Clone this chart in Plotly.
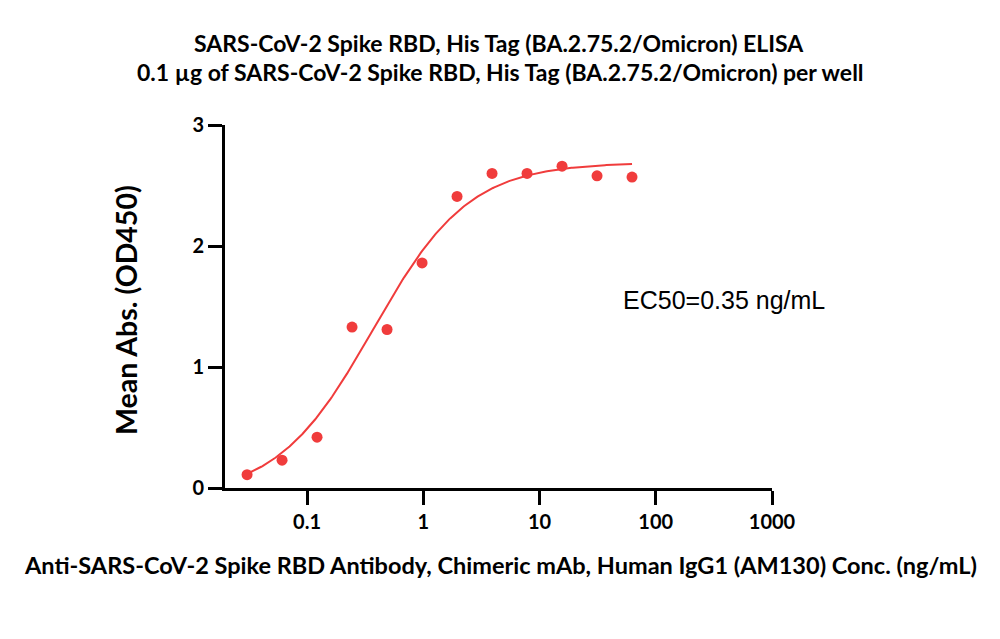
import numpy as np
import plotly.graph_objects as go

# Data
conc = [0.0305, 0.061, 0.122, 0.244, 0.488, 0.977, 1.953, 3.906, 7.8125, 15.625, 31.25, 62.5]
od450 = [0.11, 0.23, 0.42, 1.33, 1.31, 1.86, 2.41, 2.60, 2.60, 2.66, 2.58, 2.57]

# 4PL fit parameters (estimated from the drawn curve)
fit_bottom = -0.07
fit_top = 2.69
fit_ec50 = 0.37
fit_hill = 1.05

x_ticks = [0.1, 1, 10, 100, 1000]
x_tick_labels = ["0.1", "1", "10", "100", "1000"]
y_ticks = [0, 1, 2, 3]

title1 = "SARS-CoV-2 Spike RBD, His Tag (BA.2.75.2/Omicron) ELISA"
title2 = "0.1 µg of SARS-CoV-2 Spike RBD, His Tag (BA.2.75.2/Omicron) per well"
x_title = "Anti-SARS-CoV-2 Spike RBD Antibody, Chimeric mAb, Human IgG1 (AM130) Conc. (ng/mL)"
y_title = "Mean Abs. (OD450)"
ec50_text = "EC50=0.35 ng/mL"

red = "#F03C3C"

xc = np.logspace(np.log10(conc[0]), np.log10(conc[-1]), 300)
yc = fit_bottom + (fit_top - fit_bottom) / (1 + (fit_ec50 / xc) ** fit_hill)

fig = go.Figure()
fig.add_trace(go.Scatter(x=xc, y=yc, mode="lines", line=dict(color=red, width=2),
                         showlegend=False, hoverinfo="skip"))
fig.add_trace(go.Scatter(x=conc, y=od450, mode="markers",
                         marker=dict(color=red, size=11, line=dict(width=0)),
                         showlegend=False))

L, R, T, B = 225, 228, 125, 151
W, H = 1000, 639
pw, ph = W - L - R, H - T - B

def px(xpix):
    return (xpix - L) / pw

def py(ypix):
    return (H - B - ypix) / ph

title_font = dict(family="Lato", size=23, color="black")
ann = [
    dict(text="<b>" + title1 + "</b>", x=px(499), y=py(43), showarrow=False,
         xref="paper", yref="paper", xanchor="center", yanchor="middle", font=title_font),
    dict(text="<b>" + title2 + "</b>", x=px(500), y=py(72), showarrow=False,
         xref="paper", yref="paper", xanchor="center", yanchor="middle", font=title_font),
    dict(text="<b>" + x_title + "</b>", x=px(500), y=py(565), showarrow=False,
         xref="paper", yref="paper", xanchor="center", yanchor="middle",
         font=dict(family="Lato", size=23.5, color="black")),
    dict(text="<b>" + y_title + "</b>", x=px(126), y=py(310), showarrow=False,
         xref="paper", yref="paper", xanchor="center", yanchor="middle", textangle=-90,
         font=dict(family="Lato", size=28.5, color="black")),
    dict(text=ec50_text, x=px(724), y=py(300), showarrow=False,
         xref="paper", yref="paper", xanchor="center", yanchor="middle",
         font=dict(family="Liberation Sans", size=25, color="black")),
]

fig.update_layout(
    width=W, height=H,
    margin=dict(l=L, r=R, t=T, b=B, pad=0),
    paper_bgcolor="white", plot_bgcolor="white",
    annotations=ann,
    xaxis=dict(type="log", range=[np.log10(0.0197), 3], tickvals=x_ticks, ticktext=x_tick_labels,
               showgrid=False, zeroline=False, showline=True, linecolor="black", linewidth=3,
               ticks="outside", ticklen=14, tickwidth=3, tickcolor="black",
               tickfont=dict(family="Lato", size=20, color="black", weight="bold")),
    yaxis=dict(range=[0, 3], tickvals=y_ticks, showgrid=False, zeroline=False,
               showline=True, linecolor="black", linewidth=3,
               ticks="outside", ticklen=14, tickwidth=3, tickcolor="black",
               tickfont=dict(family="Lato", size=20, color="black", weight="bold")),
)

fig.write_html("out.html")
